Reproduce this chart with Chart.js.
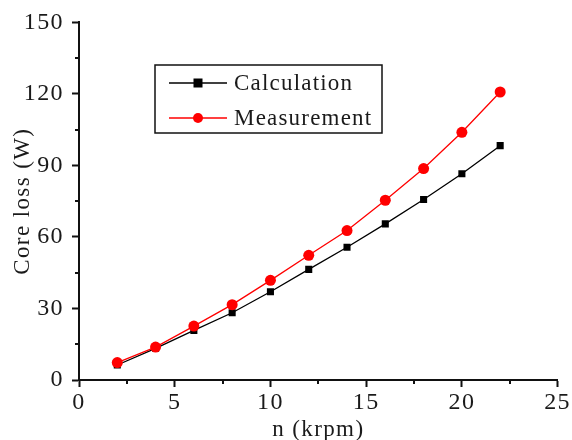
<!DOCTYPE html>
<html>
<head>
<meta charset="utf-8">
<script src="https://cdn.jsdelivr.net/npm/chart.js@4"></script>
<style>
html,body{margin:0;padding:0;background:#fff;}
#wrap{width:572px;height:440px;position:relative;}
</style>
</head>
<body>
<div id="wrap"><canvas id="c" width="572" height="440"></canvas></div>
<script>
const speeds = [2, 4, 6, 8, 10, 12, 14, 16, 18, 20, 22];
const calculation = [6.3, 13.3, 20.8, 28.2, 37, 46.4, 55.7, 65.5, 75.7, 86.5, 98.3];
const measurement = [7.3, 13.8, 22.6, 31.6, 41.8, 52.3, 62.7, 75.4, 88.7, 103.9, 120.8];
const xTickLabels = [0, 5, 10, 15, 20, 25];
const yTickLabels = [0, 30, 60, 90, 120, 150];
const seriesNames = ['Calculation', 'Measurement'];

const FONT = 'Liberation Serif';
const TXT = '#1a1a1a';
const SPACING = '1.4px';

function pts(vals){ return speeds.map((x,i)=>({x:x, y:vals[i]})); }

const spacing = {
  id:'spacing',
  beforeLayout(chart){ chart.ctx.letterSpacing = SPACING; },
  beforeDraw(chart){ chart.ctx.letterSpacing = SPACING; }
};

const minorTicks = {
  id:'minorTicks',
  afterDraw(chart){
    const ctx = chart.ctx;
    const xs = chart.scales.x, ys = chart.scales.y;
    ctx.save();
    ctx.strokeStyle = '#111';
    ctx.lineWidth = 2;
    ctx.beginPath();
    for (let v = 2.5; v < 25; v += 5){
      const px = Math.round(xs.getPixelForValue(v));
      ctx.moveTo(px, ys.bottom); ctx.lineTo(px, ys.bottom + 4);
    }
    for (let v = 15; v < 150; v += 30){
      const py = Math.round(ys.getPixelForValue(v));
      ctx.moveTo(xs.left, py); ctx.lineTo(xs.left - 4, py);
    }
    ctx.stroke();
    ctx.restore();
  }
};

const boxLegend = {
  id:'boxLegend',
  afterDraw(chart){
    const ctx = chart.ctx;
    const bx = 155, by = 65, bw = 227, bh = 68;
    ctx.save();
    ctx.strokeStyle = '#111';
    ctx.lineWidth = 1.5;
    ctx.strokeRect(bx, by, bw, bh);
    const rows = [83, 118];
    [0, 1].forEach((di, r) => {
      const ds = chart.data.datasets[di];
      const y = rows[r];
      ctx.strokeStyle = ds.borderColor;
      ctx.lineWidth = 1.4;
      ctx.beginPath(); ctx.moveTo(169, y); ctx.lineTo(227, y); ctx.stroke();
      ctx.fillStyle = ds.pointBackgroundColor;
      if (ds.pointStyle === 'rect') {
        ctx.fillRect(198 - 4.5, y - 4.5, 9, 9);
      } else {
        ctx.beginPath(); ctx.arc(198, y, 5, 0, Math.PI*2); ctx.fill();
      }
      ctx.fillStyle = TXT;
      ctx.font = '23px "' + FONT + '"';
      ctx.letterSpacing = '1.2px';
      ctx.textBaseline = 'middle';
      ctx.textAlign = 'left';
      ctx.fillText(ds.label, 234, y + 1);
    });
    ctx.restore();
  }
};

new Chart(document.getElementById('c'), {
  type: 'line',
  data: {
    datasets: [
      {
        label: seriesNames[0],
        data: pts(calculation),
        borderColor: '#000',
        backgroundColor: '#000',
        pointBackgroundColor: '#000',
        pointBorderColor: '#000',
        pointStyle: 'rect',
        pointRadius: 5,
        pointBorderWidth: 0,
        borderWidth: 1.3,
        order: 1
      },
      {
        label: seriesNames[1],
        data: pts(measurement),
        borderColor: '#ff0000',
        backgroundColor: '#ff0000',
        pointBackgroundColor: '#ff0000',
        pointBorderColor: '#ff0000',
        pointStyle: 'circle',
        pointRadius: 5.5,
        pointBorderWidth: 0,
        borderWidth: 1.3,
        order: 0
      }
    ]
  },
  options: {
    responsive: false,
    animation: false,
    layout: { padding: { top: 22, right: 13, left: 0, bottom: 0 } },
    plugins: { legend: { display: false }, tooltip: { enabled: false } },
    scales: {
      x: {
        type: 'linear',
        min: 0, max: 25,
        afterBuildTicks(scale){ scale.ticks = xTickLabels.map(v => ({value: v})); },
        afterFit(scale){ scale.height = 60; },
        grid: { display: true, drawOnChartArea: false, tickLength: 7, tickWidth: 2, tickColor: '#111' },
        border: { display: true, color: '#111', width: 2 },
        ticks: { color: TXT, font: { family: FONT, size: 24 }, padding: 1, maxRotation: 0 },
        title: { display: true, text: 'n (krpm)', color: TXT, font: { family: FONT, size: 23 }, padding: { top: 0, bottom: -4 } }
      },
      y: {
        type: 'linear',
        min: 0, max: 150,
        afterBuildTicks(scale){ scale.ticks = yTickLabels.map(v => ({value: v})); },
        afterFit(scale){ scale.width = 79; },
        grid: { display: true, drawOnChartArea: false, tickLength: 7, tickWidth: 2, tickColor: '#111' },
        border: { display: true, color: '#111', width: 2 },
        ticks: { color: TXT, font: { family: FONT, size: 24 }, padding: 8 },
        title: { display: true, text: 'Core loss (W)', color: TXT, font: { family: FONT, size: 23 }, padding: { top: 9, bottom: 0 } }
      }
    }
  },
  plugins: [spacing, minorTicks, boxLegend]
});
</script>
</body>
</html>
